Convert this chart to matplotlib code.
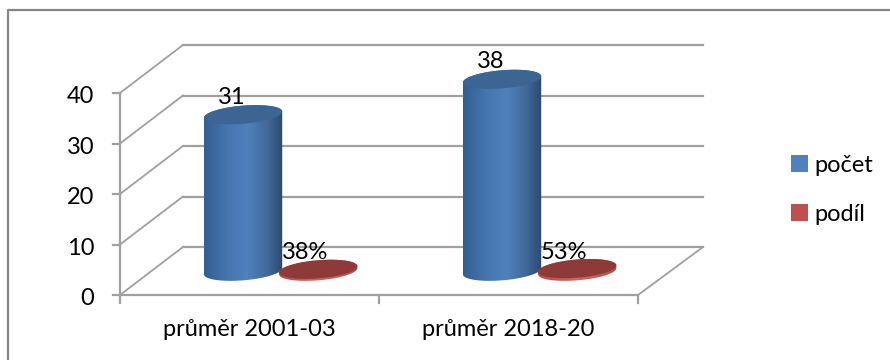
import numpy as np
import matplotlib
matplotlib.use("Agg")
import matplotlib.pyplot as plt
from matplotlib.colors import LinearSegmentedColormap
from matplotlib.patches import Patch, PathPatch
from matplotlib.path import Path

# data
categories = ["průměr 2001-03", "průměr 2018-20"]
pocet = [31, 38]
podil = [0.38, 0.53]
podil_labels = ["38%", "53%"]
y_ticks = [0, 10, 20, 30, 40]
series_names = ["počet", "podíl"]

plt.rcParams["font.family"] = ["Lato", "DejaVu Sans"]
FS = 17

# chart geometry, data units
DEPTH_X = 0.243    # shift of back wall in x
DEPTH_Y = 9.5      # shift of back wall in y
BAR_D = 0.495      # bars stand this far into the floor
BAR_OFF = 0.145    # bar centre to category centre
RX = 0.143
RD = 0.2           # radius along depth

fig = plt.figure(figsize=(8.9, 3.6), dpi=100)
ax = fig.add_axes([0, 0, 1, 1])
ax.set_xlim(-120 / 259, 770 / 259)
ax.set_ylim(-65 / 5.05, 295 / 5.05)
ax.axis("off")

GRID = "#a0a0a0"


def ellipse(cx, base, n=120):
    t = np.linspace(0, 2 * np.pi, n)
    x = cx + RX * np.cos(t) + RD * DEPTH_X * np.sin(t)
    y = base + RD * DEPTH_Y * np.sin(t)
    return x, y


def cylinder_outline(cx, base, top):
    # outline: lower half of bottom ellipse, upper half of top ellipse
    xb, yb = ellipse(cx, base, 241)
    i_left = np.argmin(xb)
    i_right = np.argmax(xb)
    # t runs counterclockwise, right extreme -> top -> left extreme -> bottom
    tr = np.linspace(0, 2 * np.pi, 241)
    t_r = tr[i_right]
    t_l = tr[i_left]
    t_low = np.linspace(t_l, t_r + 2 * np.pi if t_r < t_l else t_r, 100)
    t_up = np.linspace(t_r, t_l, 100)
    xl = cx + RX * np.cos(t_low) + RD * DEPTH_X * np.sin(t_low)
    yl = base + RD * DEPTH_Y * np.sin(t_low)
    xu = cx + RX * np.cos(t_up) + RD * DEPTH_X * np.sin(t_up)
    yu = top + RD * DEPTH_Y * np.sin(t_up)
    return np.r_[xl, xu], np.r_[yl, yu]


def draw_cylinder(cx, value, cmap, top_color, z):
    base = DEPTH_Y * BAR_D
    top = base + value
    cx = cx + DEPTH_X * BAR_D
    xs, ys = cylinder_outline(cx, base, top)
    verts = np.column_stack([xs, ys])
    clip = PathPatch(Path(np.vstack([verts, verts[0]]), closed=True),
                     fc="none", ec="none", transform=ax.transData)
    ax.add_patch(clip)
    grad = np.linspace(0, 1, 256).reshape(1, -1)
    im = ax.imshow(grad, cmap=cmap, aspect="auto", zorder=z,
                   extent=[xs.min(), xs.max(), ys.min(), ys.max()])
    im.set_clip_path(clip)
    xt, yt = ellipse(cx, top)
    ax.fill(xt, yt, color=top_color, lw=0, zorder=z + 0.1)


blue_map = LinearSegmentedColormap.from_list(
    "blue", [(0, "#335e91"), (0.3, "#4675af"), (0.55, "#4f81bd"),
             (0.8, "#41699a"), (1, "#2c4a70")])
red_map = LinearSegmentedColormap.from_list(
    "red", [(0, "#b54b48"), (0.5, "#d9615d"), (1, "#b54b48")])

# walls and floor
for v in y_ticks:
    ax.plot([0, DEPTH_X], [v, v + DEPTH_Y], color=GRID, lw=1.3, zorder=1)
    ax.plot([DEPTH_X, 2 + DEPTH_X + 0.008], [v + DEPTH_Y, v + DEPTH_Y],
            color=GRID, lw=1.6, zorder=1)
    ax.plot([-0.028, 0], [v, v], color=GRID, lw=1.6, zorder=1)
ax.plot([0, 0], [0, 40], color=GRID, lw=1.6, zorder=1)
ax.plot([0, 2], [0, 0], color=GRID, lw=1.6, zorder=1)
ax.plot([2, 2 + DEPTH_X + 0.008], [0, DEPTH_Y], color=GRID, lw=1.3, zorder=1)
for i in range(3):
    ax.plot([i, i], [0, -1.6], color=GRID, lw=1.6, zorder=1)

# cylinders
for i in range(len(categories)):
    draw_cylinder(i + 0.5 - BAR_OFF, pocet[i], blue_map, "#3c6594", 3)
    draw_cylinder(i + 0.5 + BAR_OFF, podil[i], red_map, "#8e3a38", 4)

# labels
for i in range(len(categories)):
    cx = i + 0.5 - BAR_OFF + DEPTH_X * BAR_D
    ax.text(cx - 0.045, pocet[i] + DEPTH_Y * BAR_D + 1.4, str(pocet[i]),
            ha="center", va="bottom", fontsize=FS, color="black", zorder=6)
    cx = i + 0.5 + BAR_OFF + DEPTH_X * BAR_D
    ax.text(cx - 0.05, podil[i] + DEPTH_Y * BAR_D + 1.2, podil_labels[i],
            ha="center", va="bottom", fontsize=FS, color="black", zorder=6)
    ax.text(i + 0.5, -6.9, categories[i], ha="center", va="center",
            fontsize=FS, color="black")
for v in y_ticks:
    ax.text(-0.1, v - 0.3, str(v), ha="right", va="center_baseline", fontsize=FS,
            color="black")

# legend
handles = [Patch(fc="#4f81bd", ec="none"), Patch(fc="#c0504d", ec="none")]
ax.legend(handles, series_names, loc="upper left",
          bbox_to_anchor=(791 / 890, 1 - 155 / 360), frameon=False,
          fontsize=FS, handlelength=0.72, handleheight=0.72,
          handletextpad=0.25, labelspacing=1.17, borderpad=0.0, borderaxespad=0)

# outer frame, only left and top are visible
ax.plot([8 / 890, 8 / 890, 1], [0, 1 - 10 / 360, 1 - 10 / 360], color="#868686",
        lw=1.6, transform=ax.transAxes, clip_on=False, zorder=0)

fig.savefig("out.png", dpi=100)
